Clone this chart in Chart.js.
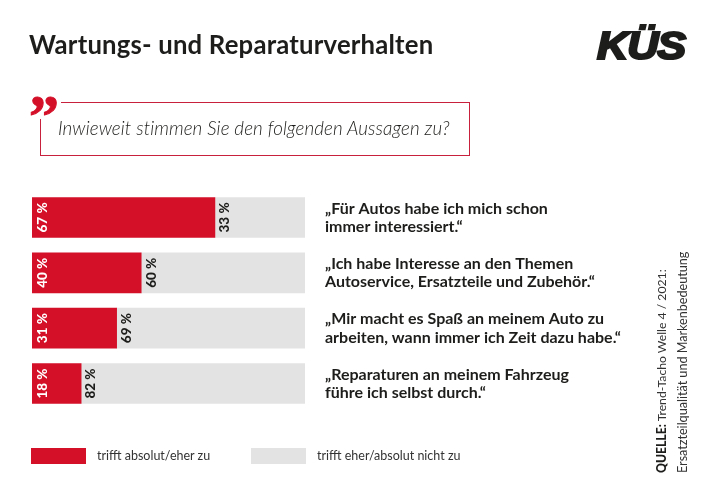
<!DOCTYPE html>
<html lang="de"><head><meta charset="utf-8">
<script src="https://cdn.jsdelivr.net/npm/chart.js@4"></script>
<style>
html,body{margin:0;padding:0;background:#fff;width:710px;height:502px;overflow:hidden}
#wrap{position:relative;width:710px;height:502px;font-family:Lato,sans-serif;color:#1d1d1b}
canvas{position:absolute;left:0;top:0}
.t{position:absolute;white-space:nowrap;line-height:1}
#title{left:29px;top:32px;font-size:25.7px;font-weight:700;letter-spacing:.2px}
#logo{left:597px;top:25px;font:italic 700 38px "Liberation Sans";letter-spacing:-1px;-webkit-text-stroke:2.2px #1d1d1b;color:#1d1d1b;transform-origin:0 0;transform:scaleX(1.14)}
#quote{left:29px;top:82px;font:700 60px "Liberation Serif";color:#d40f28;-webkit-text-stroke:1px #d40f28}
#box{position:absolute;left:40px;top:102px;width:428px;height:52px;border:1.5px solid #c8213e;box-sizing:content-box}
#gapT{position:absolute;left:38px;top:100px;width:23px;height:6px;background:#fff}
#gapL{position:absolute;left:38px;top:100px;width:6px;height:19px;background:#fff}
#q{left:58px;top:119px;font-size:18.8px;font-style:italic;font-weight:300;letter-spacing:.1px}
.sw{position:absolute;width:55px;height:16px;top:448px}
.lg{top:450px;font-size:12.5px;color:#333}
.src{transform-origin:0 0;transform:rotate(-90deg);font-size:12.6px;color:#333}
</style></head><body>
<div id="wrap">
<canvas id="c" width="710" height="502"></canvas>
<div class="t" id="title">Wartungs- und Reparaturverhalten</div>
<div class="t" id="logo">KÜS</div>
<div id="box"></div><div id="gapT"></div><div id="gapL"></div>
<div class="t" id="quote">”</div>
<div class="t" id="q">Inwieweit stimmen Sie den folgenden Aussagen zu?</div>
<div id="legend"></div>
<div class="t src" style="left:656px;top:473px;font-size:12.2px"><b style="color:#1d1d1b;font-weight:900">QUELLE:</b> Trend-Tacho Welle 4 / 2021:</div>
<div class="t src" style="left:677px;top:473px">Ersatzteilqualität und Markenbedeutung</div>
</div>
<script>
const categories=[
 ["„Für Autos habe ich mich schon","immer interessiert.“"],
 ["„Ich habe Interesse an den Themen","Autoservice, Ersatzteile und Zubehör.“"],
 ["„Mir macht es Spaß an meinem Auto zu","arbeiten, wann immer ich Zeit dazu habe.“"],
 ["„Reparaturen an meinem Fahrzeug","führe ich selbst durch.“"]
];
const agree=[67,40,31,18];
const disagree=[33,60,69,82];
const seriesNames=["trifft absolut/eher zu","trifft eher/absolut nicht zu"];
const RED="#d40f28",GREY="#e3e3e3",INK="#1d1d1b";

const labelsPlugin={id:"labels",afterDatasetsDraw(chart){
 const ctx=chart.ctx;
 const y=chart.scales.y;
 const m0=chart.getDatasetMeta(0).data;
 ctx.save();
 categories.forEach((lines,i)=>{
  const b=m0[i];
  const put=(px,text,color)=>{
   ctx.save();ctx.translate(px,b.y);ctx.rotate(-Math.PI/2);
   ctx.font="900 13.5px Lato";ctx.fillStyle=color;ctx.textAlign="center";ctx.textBaseline="middle";
   ctx.fillText(text,0,0);ctx.restore();
  };
  put(chart.scales.x.left+10.5,agree[i]+" %","#fff");
  put(b.x+10,disagree[i]+" %",INK);
  const cy=y.getPixelForTick(i);
  ctx.font="700 16px Lato";ctx.fillStyle=INK;ctx.textAlign="left";ctx.textBaseline="middle";
  ctx.fillText(lines[0],325,cy-9);
  ctx.fillText(lines[1],325,cy+9.3);
 });
 ctx.restore();
}};

new Chart(document.getElementById("c"),{
 type:"bar",
 data:{labels:categories.map(c=>c.join(" ")),datasets:[
  {label:seriesNames[0],data:agree,backgroundColor:RED,barThickness:40},
  {label:seriesNames[1],data:disagree,backgroundColor:GREY,barThickness:40}
 ]},
 options:{
  indexAxis:"y",responsive:false,animation:false,
  layout:{padding:{left:32,right:405,top:189.8,bottom:90.8}},
  scales:{
   x:{stacked:true,min:0,max:100,display:false},
   y:{stacked:true,display:false}
  },
  plugins:{legend:{display:false},tooltip:{enabled:false}}
 },
 plugins:[labelsPlugin]
});

const lg=document.getElementById("legend");
[[31,97,RED],[251,317,GREY]].forEach((p,i)=>{
 const s=document.createElement("div");s.className="sw";s.style.left=p[0]+"px";s.style.background=p[2];lg.appendChild(s);
 const t=document.createElement("div");t.className="t lg";t.style.left=p[1]+"px";t.textContent=seriesNames[i];lg.appendChild(t);
});
</script>
</body></html>
